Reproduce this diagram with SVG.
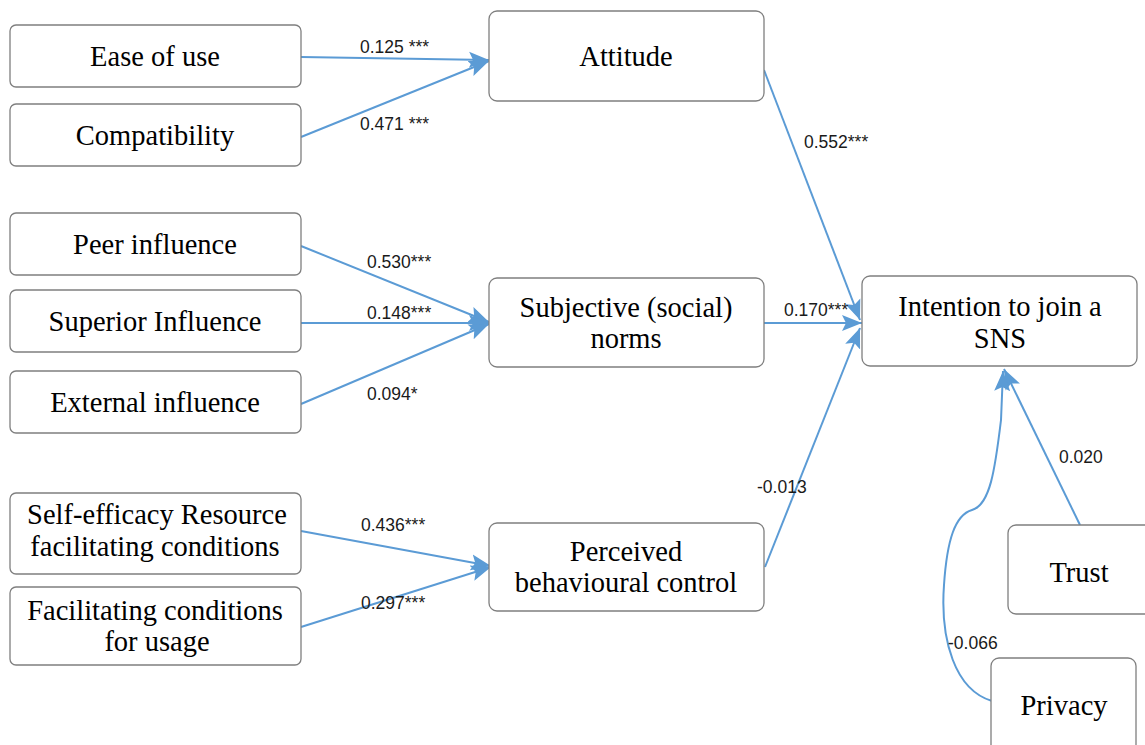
<svg xmlns="http://www.w3.org/2000/svg" width="1145" height="745" viewBox="0 0 1145 745">
  <style>
    .box { fill: #ffffff; stroke: #7f7f7f; stroke-width: 1.3; }
    .lbl { font-family: "Liberation Serif", "Times New Roman", serif; font-size: 28.5px; fill: #000000; text-anchor: middle; }
    .coef { font-family: "Liberation Sans", Arial, sans-serif; font-size: 17.5px; fill: #1a1a1a; }
    .edge { fill: none; stroke: #5b9bd5; stroke-width: 2; }
  </style>
  <defs>
    <marker id="head" viewBox="0 0 20 20" refX="20" refY="10" markerWidth="20" markerHeight="20" orient="auto" markerUnits="userSpaceOnUse">
      <path d="M0,2 L20,10 L0,18 L4,10 z" fill="#5b9bd5"/>
    </marker>
  </defs>
  <rect width="1145" height="745" fill="#ffffff"/>

  <!-- connectors -->
  <g id="connectors">
    <path class="edge" d="M301,57 L489,60" marker-end="url(#head)"/>
    <path class="edge" d="M301,137 L489,61" marker-end="url(#head)"/>
    <path class="edge" d="M301,246 L489,322" marker-end="url(#head)"/>
    <path class="edge" d="M301,323 L489,323" marker-end="url(#head)"/>
    <path class="edge" d="M301,404 L489,324" marker-end="url(#head)"/>
    <path class="edge" d="M301,531 L491,566" marker-end="url(#head)"/>
    <path class="edge" d="M301,627 L491,567" marker-end="url(#head)"/>
    <path class="edge" d="M764,70 L860,320" marker-end="url(#head)"/>
    <path class="edge" d="M764,323 L862,323" marker-end="url(#head)"/>
    <path class="edge" d="M765,567 L860,328" marker-end="url(#head)"/>
    <path class="edge" d="M1080,525 L1004,369" marker-end="url(#head)"/>
    <path class="edge" d="M992,701 C955,690 940,640 944,585 C947,540 955,515 972,510 C990,505 995,470 1001,420 L1003,371" marker-end="url(#head)"/>

    <text class="coef" x="360" y="53">0.125 ***</text>
    <text class="coef" x="360" y="130">0.471 ***</text>
    <text class="coef" x="804" y="148">0.552***</text>
    <text class="coef" x="367" y="268">0.530***</text>
    <text class="coef" x="367" y="319">0.148***</text>
    <text class="coef" x="367" y="400">0.094*</text>
    <text class="coef" x="784" y="316">0.170***</text>
    <text class="coef" x="757" y="493">-0.013</text>
    <text class="coef" x="361" y="531">0.436***</text>
    <text class="coef" x="361" y="609">0.297***</text>
    <text class="coef" x="1059" y="463">0.020</text>
    <text class="coef" x="948" y="649">-0.066</text>
  </g>

  <!-- left column: antecedents -->
  <g id="ease-of-use">
    <rect class="box" x="10" y="25" width="291" height="62" rx="6"/>
    <text class="lbl" x="155" y="66">Ease of use</text>
  </g>
  <g id="compatibility">
    <rect class="box" x="10" y="104" width="291" height="62" rx="6"/>
    <text class="lbl" x="155" y="145">Compatibility</text>
  </g>
  <g id="peer-influence">
    <rect class="box" x="10" y="213" width="291" height="62" rx="6"/>
    <text class="lbl" x="155" y="254">Peer influence</text>
  </g>
  <g id="superior-influence">
    <rect class="box" x="10" y="290" width="291" height="62" rx="6"/>
    <text class="lbl" x="155" y="331">Superior  Influence</text>
  </g>
  <g id="external-influence">
    <rect class="box" x="10" y="371" width="291" height="62" rx="6"/>
    <text class="lbl" x="155" y="412">External influence</text>
  </g>
  <g id="self-efficacy">
    <rect class="box" x="10" y="493" width="291" height="81" rx="6"/>
    <text class="lbl" x="157" y="524">Self-efficacy Resource</text>
    <text class="lbl" x="155" y="556">facilitating  conditions</text>
  </g>
  <g id="facilitating-conditions">
    <rect class="box" x="10" y="587" width="291" height="78" rx="6"/>
    <text class="lbl" x="155" y="620">Facilitating  conditions</text>
    <text class="lbl" x="157" y="651">for usage</text>
  </g>

  <!-- middle column: attitudinal constructs -->
  <g id="attitude">
    <rect class="box" x="489" y="11" width="275" height="90" rx="8"/>
    <text class="lbl" x="626" y="66">Attitude</text>
  </g>
  <g id="subjective-norms">
    <rect class="box" x="489" y="278" width="275" height="89" rx="8"/>
    <text class="lbl" x="626" y="317">Subjective  (social)</text>
    <text class="lbl" x="626" y="348">norms</text>
  </g>
  <g id="perceived-behavioural-control">
    <rect class="box" x="489" y="523" width="275" height="88" rx="8"/>
    <text class="lbl" x="626" y="561">Perceived</text>
    <text class="lbl" x="626" y="592">behavioural  control</text>
  </g>

  <!-- outcome and moderators -->
  <g id="intention">
    <rect class="box" x="862" y="276" width="275" height="90" rx="8"/>
    <text class="lbl" x="1000" y="316">Intention  to  join  a</text>
    <text class="lbl" x="1000" y="348">SNS</text>
  </g>
  <g id="trust">
    <rect class="box" x="1008" y="525" width="150" height="89" rx="8"/>
    <text class="lbl" x="1079" y="582">Trust</text>
  </g>
  <g id="privacy">
    <rect class="box" x="991" y="658" width="145" height="100" rx="8"/>
    <text class="lbl" x="1064" y="715">Privacy</text>
  </g>
</svg>
